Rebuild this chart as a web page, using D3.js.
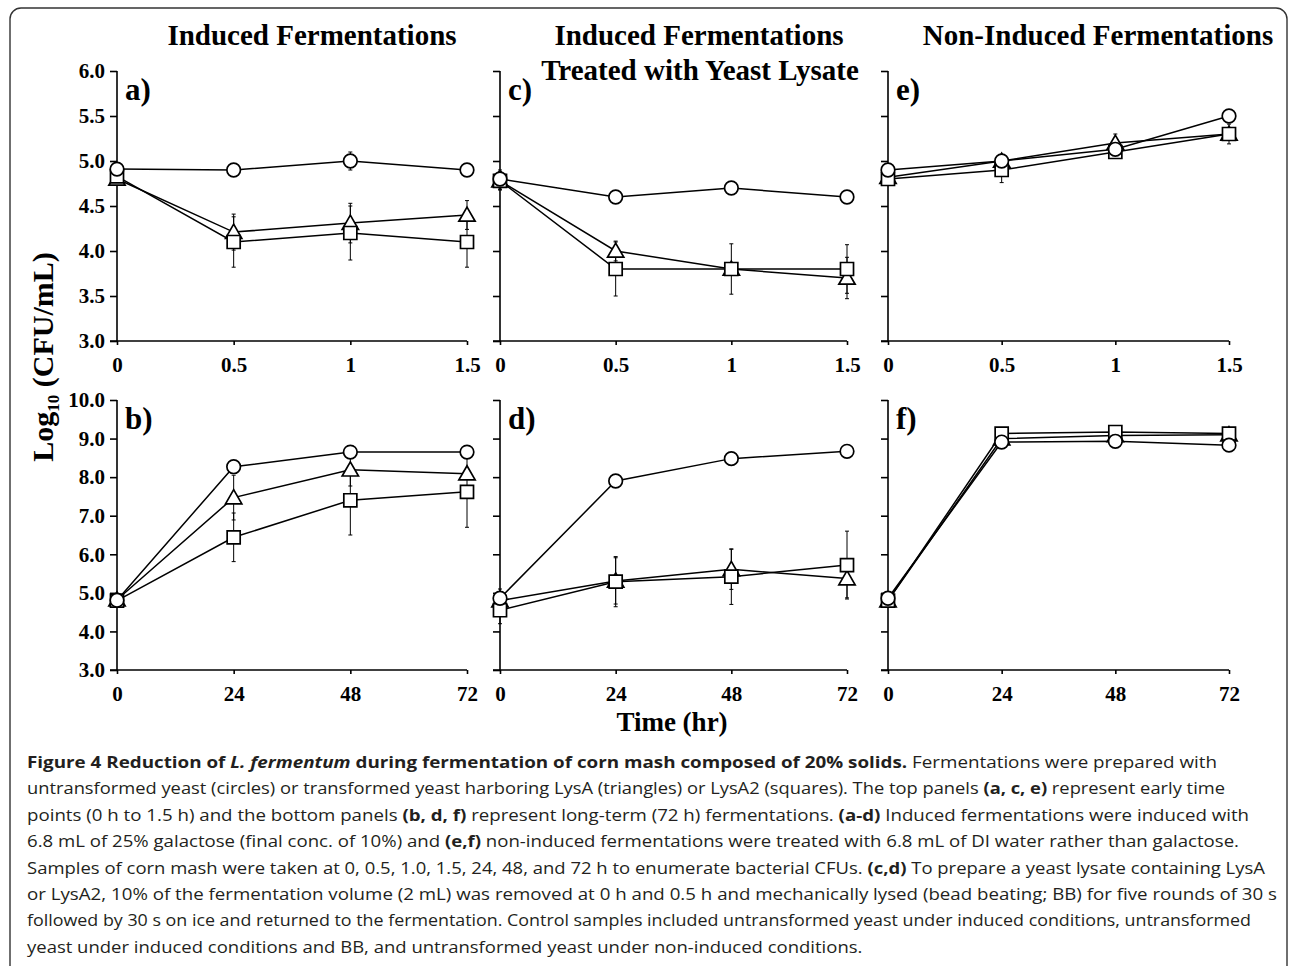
<!DOCTYPE html>
<html>
<head>
<meta charset="utf-8">
<script src="https://cdn.jsdelivr.net/npm/d3@7"></script>
<style>
  body { margin: 0; background: #fff; }
  svg { display: block; }
</style>
</head>
<body>
<div id="chart"></div>
<script>
// time points
let earlyTimes = [0, 0.5, 1, 1.5]
let lateTimes = [0, 24, 48, 72]
let earlyTickLabels = ["0", "0.5", "1", "1.5"]
let lateTickLabels = ["0", "24", "48", "72"]
let earlyYTicks = [3.0, 3.5, 4.0, 4.5, 5.0, 5.5, 6.0]
let lateYTicks = [3, 4, 5, 6, 7, 8, 9, 10]

// a) induced, early
let aCircle = [4.91, 4.9, 5.0, 4.9]
let aCircleErr = [0.04, 0.03, 0.1, 0.03]
let aTriangle = [4.8, 4.21, 4.31, 4.4]
let aTriangleErr = [0.03, 0.2, 0.22, 0.16]
let aSquare = [4.83, 4.1, 4.2, 4.1]
let aSquareErr = [0.03, 0.28, 0.3, 0.28]

// c) induced + yeast lysate, early
let cCircle = [4.8, 4.6, 4.7, 4.6]
let cCircleErr = [0.1, 0.03, 0.03, 0.07]
let cTriangle = [4.78, 4.0, 3.8, 3.7]
let cTriangleErr = [0.1, 0.11, 0.05, 0.23]
let cSquare = [4.78, 3.8, 3.8, 3.8]
let cSquareErr = [0.1, 0.3, 0.28, 0.27]

// e) non-induced, early
let eCircle = [4.9, 5.0, 5.13, 5.5]
let eCircleErr = [0.04, 0.07, 0.05, 0.03]
let eTriangle = [4.82, 5.0, 5.2, 5.3]
let eTriangleErr = [0.05, 0.05, 0.1, 0.05]
let eSquare = [4.8, 4.9, 5.1, 5.3]
let eSquareErr = [0.05, 0.14, 0.05, 0.11]

// b) induced, long term
let bCircle = [4.81, 8.27, 8.65, 8.65]
let bCircleErr = [0.05, 0.12, 0.05, 0.05]
let bTriangle = [4.82, 7.47, 8.19, 8.09]
let bTriangleErr = [0.1, 0.58, 0.42, 0.05]
let bSquare = [4.8, 6.44, 7.4, 7.62]
let bSquareErr = [0.1, 0.63, 0.9, 0.92]

// d) induced + yeast lysate, long term
let dCircle = [4.86, 7.9, 8.48, 8.67]
let dCircleErr = [0.05, 0.05, 0.05, 0.05]
let dTriangle = [4.8, 5.31, 5.61, 5.37]
let dTriangleErr = [0.3, 0.6, 0.52, 0.5]
let dSquare = [4.55, 5.29, 5.42, 5.72]
let dSquareErr = [0.35, 0.65, 0.72, 0.88]

// f) non-induced, long term
let fCircle = [4.86, 8.91, 8.93, 8.83]
let fCircleErr = [0.05, 0.05, 0.05, 0.05]
let fTriangle = [4.8, 9.0, 9.08, 9.1]
let fTriangleErr = [0.05, 0.05, 0.05, 0.05]
let fSquare = [4.8, 9.13, 9.17, 9.13]
let fSquareErr = [0.05, 0.05, 0.05, 0.05]

let panels = [
  { label: "a)", col: 0, row: 0, circle: aCircle, circleErr: aCircleErr, triangle: aTriangle, triangleErr: aTriangleErr, square: aSquare, squareErr: aSquareErr },
  { label: "c)", col: 1, row: 0, circle: cCircle, circleErr: cCircleErr, triangle: cTriangle, triangleErr: cTriangleErr, square: cSquare, squareErr: cSquareErr },
  { label: "e)", col: 2, row: 0, circle: eCircle, circleErr: eCircleErr, triangle: eTriangle, triangleErr: eTriangleErr, square: eSquare, squareErr: eSquareErr },
  { label: "b)", col: 0, row: 1, circle: bCircle, circleErr: bCircleErr, triangle: bTriangle, triangleErr: bTriangleErr, square: bSquare, squareErr: bSquareErr },
  { label: "d)", col: 1, row: 1, circle: dCircle, circleErr: dCircleErr, triangle: dTriangle, triangleErr: dTriangleErr, square: dSquare, squareErr: dSquareErr },
  { label: "f)", col: 2, row: 1, circle: fCircle, circleErr: fCircleErr, triangle: fTriangle, triangleErr: fTriangleErr, square: fSquare, squareErr: fSquareErr }
]

let captionLines = [
  [["b", "Figure 4 Reduction of "], ["bi", "L. fermentum"], ["b", " during fermentation of corn mash composed of 20% solids."], ["n", " Fermentations were prepared with"]],
  [["n", "untransformed yeast (circles) or transformed yeast harboring LysA (triangles) or LysA2 (squares). The top panels "], ["b", "(a, c, e)"], ["n", " represent early time"]],
  [["n", "points (0 h to 1.5 h) and the bottom panels "], ["b", "(b, d, f)"], ["n", " represent long-term (72 h) fermentations. "], ["b", "(a-d)"], ["n", " Induced fermentations were induced with"]],
  [["n", "6.8 mL of 25% galactose (final conc. of 10%) and "], ["b", "(e,f)"], ["n", " non-induced fermentations were treated with 6.8 mL of DI water rather than galactose."]],
  [["n", "Samples of corn mash were taken at 0, 0.5, 1.0, 1.5, 24, 48, and 72 h to enumerate bacterial CFUs. "], ["b", "(c,d)"], ["n", " To prepare a yeast lysate containing LysA"]],
  [["n", "or LysA2, 10% of the fermentation volume (2 mL) was removed at 0 h and 0.5 h and mechanically lysed (bead beating; BB) for five rounds of 30 s"]],
  [["n", "followed by 30 s on ice and returned to the fermentation. Control samples included untransformed yeast under induced conditions, untransformed"]],
  [["n", "yeast under induced conditions and BB, and untransformed yeast under non-induced conditions."]]
]
let captionEnds = [1217, 1225, 1249, 1239, 1265, 1277, 1251, null]

let width = 1290
let height = 966
let serif = "'Liberation Serif', 'Times New Roman', serif"

let colX = [[117, 467], [500, 847], [888, 1229]]
let rowY = [[341, 71], [670, 400]]

let svg = d3.select("#chart").append("svg")
    .attr("width", width)
    .attr("height", height)

// frame round figure and caption
svg.append("rect")
    .attr("x", 10).attr("y", 8)
    .attr("width", 1277).attr("height", 1000)
    .attr("rx", 11)
    .attr("fill", "none")
    .attr("stroke", "#333")
    .attr("stroke-width", 1.4)

panels.forEach((p) => {
  let early = p.row === 0
  let times = early ? earlyTimes : lateTimes
  let x = d3.scaleLinear().domain([0, early ? 1.5 : 72]).range(colX[p.col])
  let y = d3.scaleLinear().domain(early ? [3, 6] : [3, 10]).range(rowY[p.row])
  let g = svg.append("g")

  let yAxis = d3.axisLeft(y)
      .tickValues(early ? earlyYTicks : lateYTicks)
      .tickSize(7)
      .tickPadding(5)
      .tickFormat(p.col === 0 ? d3.format(".1f") : "")
  let ya = g.append("g")
      .attr("transform", "translate(" + colX[p.col][0] + ",0)")
      .call(yAxis)
  ya.select(".domain").attr("d", "M0," + rowY[p.row][0] + "V" + rowY[p.row][1])

  let xAxis = d3.axisBottom(x)
      .tickValues(times)
      .tickSize(4)
      .tickPadding(12)
      .tickFormat((d, i) => (early ? earlyTickLabels : lateTickLabels)[i])
  let xa = g.append("g")
      .attr("transform", "translate(0," + rowY[p.row][0] + ")")
      .call(xAxis)
  xa.select(".domain").attr("d", "M" + (colX[p.col][0] - 7) + ",0H" + colX[p.col][1])

  g.selectAll(".domain, .tick line").attr("stroke", "#000").attr("stroke-width", 1.6)
  g.selectAll(".tick text")
      .attr("fill", "#000")
      .style("font-family", serif)
      .style("font-weight", "bold")
      .style("font-size", "21px")

  // panel letter
  g.append("text")
      .attr("x", colX[p.col][0] + 8)
      .attr("y", rowY[p.row][1] + 29)
      .style("font-family", serif)
      .style("font-weight", "bold")
      .style("font-size", "31px")
      .text(p.label)

  let series = [
    { kind: "triangle", v: p.triangle, e: p.triangleErr },
    { kind: "square", v: p.square, e: p.squareErr },
    { kind: "circle", v: p.circle, e: p.circleErr }
  ]

  // error bars first
  series.forEach((s) => {
    let eg = g.append("g").attr("stroke", "#000").attr("stroke-width", 1)
    s.v.forEach((v, i) => {
      let cx = x(times[i])
      eg.append("line").attr("x1", cx).attr("x2", cx).attr("y1", y(v - s.e[i])).attr("y2", y(v + s.e[i]))
      eg.append("line").attr("x1", cx - 2).attr("x2", cx + 2).attr("y1", y(v - s.e[i])).attr("y2", y(v - s.e[i]))
      eg.append("line").attr("x1", cx - 2).attr("x2", cx + 2).attr("y1", y(v + s.e[i])).attr("y2", y(v + s.e[i]))
    })
  })

  let line = d3.line().x((d, i) => x(times[i])).y((d) => y(d))
  series.forEach((s) => {
    g.append("path")
        .attr("d", line(s.v))
        .attr("fill", "none")
        .attr("stroke", "#000")
        .attr("stroke-width", 1.5)
  })

  series.forEach((s) => {
    let sym = d3.symbol()
        .type(s.kind === "circle" ? d3.symbolCircle : s.kind === "square" ? d3.symbolSquare : d3.symbolTriangle)
        .size(s.kind === "circle" ? 145 : s.kind === "square" ? 170 : 115)
    g.selectAll(null)
        .data(s.v)
        .enter().append("path")
        .attr("d", sym)
        .attr("transform", (d, i) => "translate(" + x(times[i]) + "," + (y(d) + (s.kind === "triangle" ? 1.5 : 0)) + ")")
        .attr("fill", "#fff")
        .attr("stroke", "#000")
        .attr("stroke-width", 1.7)
  })
})

// column titles
let titleStyle = (t) => t.style("font-family", serif).style("font-weight", "bold").style("font-size", "29px").attr("text-anchor", "middle")
svg.append("text").attr("x", 312).attr("y", 45).call(titleStyle).text("Induced Fermentations")
svg.append("text").attr("x", 699).attr("y", 45).call(titleStyle).text("Induced Fermentations")
svg.append("text").attr("x", 700).attr("y", 80).call(titleStyle).text("Treated with Yeast Lysate")
svg.append("text").attr("x", 1098).attr("y", 45).call(titleStyle).text("Non-Induced Fermentations")

// axis titles
let ylab = svg.append("text")
    .attr("transform", "translate(53,357) rotate(-90)")
    .attr("text-anchor", "middle")
    .style("font-family", serif)
    .style("font-weight", "bold")
    .style("font-size", "30px")
ylab.append("tspan").text("Log")
ylab.append("tspan").attr("dy", 6).style("font-size", "17px").text("10")
ylab.append("tspan").attr("dy", -6).text(" (CFU/mL)")

svg.append("text")
    .attr("x", 672).attr("y", 731)
    .attr("text-anchor", "middle")
    .style("font-family", serif)
    .style("font-weight", "bold")
    .style("font-size", "27px")
    .text("Time (hr)")

// caption
let ratios = []
captionLines.forEach((parts, i) => {
  let t = svg.append("text")
      .attr("x", 27)
      .attr("y", 768 + i * 26.4)
      .attr("fill", "#231f20")
      .style("font-family", "'Open Sans', sans-serif")
      .style("font-size", "16.5px")
  parts.forEach((pt) => {
    let ts = t.append("tspan").text(pt[1])
    if (pt[0] !== "n") ts.style("font-weight", "bold")
    if (pt[0] === "bi") ts.style("font-style", "italic")
  })
  let natural = t.node().getComputedTextLength()
  let target = captionEnds[i]
  if (target === null) {
    let r = d3.mean(ratios)
    target = 27 + natural * r
  } else {
    ratios.push((target - 27) / natural)
  }
  t.attr("textLength", target - 27).attr("lengthAdjust", "spacingAndGlyphs")
})
</script>
</body>
</html>
